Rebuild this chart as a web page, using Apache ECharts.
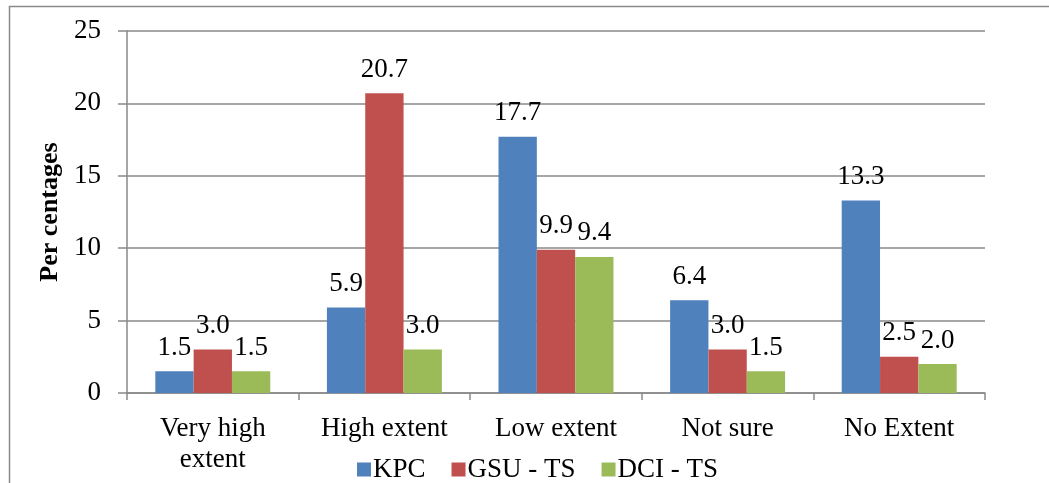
<!DOCTYPE html>
<html>
<head>
<meta charset="utf-8">
<script src="https://cdn.jsdelivr.net/npm/echarts@6/dist/echarts.min.js"></script>
<style>
  html, body { margin: 0; padding: 0; background: #fff; }
  #chart { width: 1049px; height: 483px; }
</style>
</head>
<body>
<div id="chart"></div>
<script>
// Response categories and per-centage values for each institution
const categories = ['Very high\nextent', 'High extent', 'Low extent', 'Not sure', 'No Extent'];
const seriesNames = ['KPC', 'GSU - TS', 'DCI - TS'];
const kpc = [1.5, 5.9, 17.7, 6.4, 13.3];
const gsuTs = [3.0, 20.7, 9.9, 3.0, 2.5];
const dciTs = [1.5, 3.0, 9.4, 1.5, 2.0];
const yTicks = { min: 0, max: 25, interval: 5 };

const FONT = '"Liberation Serif", "Times New Roman", serif';
const colors = ['#4F81BD', '#C0504D', '#9BBB59'];
const gridGray = '#898989';

function barSeries(name, data, color) {
  return {
    name: name,
    type: 'bar',
    data: data,
    barGap: '0%',
    barCategoryGap: '33%',
    itemStyle: { color: color },
    label: {
      show: true,
      position: 'top',
      distance: 10,
      color: '#000',
      fontFamily: FONT,
      fontSize: 27,
      formatter: p => p.value.toFixed(1)
    }
  };
}

const chart = echarts.init(document.getElementById('chart'), null, { renderer: 'canvas' });
chart.setOption({
  backgroundColor: '#fff',
  animation: false,
  graphic: [{
    type: 'rect',
    shape: { x: 9.5, y: 6.5, width: 1100, height: 600 },
    style: { fill: 'none', stroke: '#8a8a8a', lineWidth: 1.5 },
    silent: true,
    z: -1
  }],
  grid: { left: 127, right: 64, top: 31, bottom: 90 },
  legend: {
    data: seriesNames,
    left: 352,
    top: 451,
    itemWidth: 14,
    itemHeight: 14,
    itemGap: 26,
    icon: 'rect',
    textStyle: { fontFamily: FONT, fontSize: 27, color: '#000', padding: [0, 0, 0, -3] }
  },
  xAxis: {
    type: 'category',
    data: categories,
    axisLine: { lineStyle: { color: gridGray, width: 1.5 } },
    axisTick: { show: true, length: 7, alignWithLabel: false, lineStyle: { color: gridGray, width: 1.5 } },
    axisLabel: {
      interval: 0,
      margin: 20,
      color: '#000',
      fontFamily: FONT,
      fontSize: 27,
      lineHeight: 31
    }
  },
  yAxis: {
    type: 'value',
    min: yTicks.min,
    max: yTicks.max,
    interval: yTicks.interval,
    name: 'Per centages',
    nameLocation: 'middle',
    nameGap: 49,
    nameTextStyle: { fontFamily: FONT, fontSize: 26, fontWeight: 'bold', color: '#000' },
    axisLine: { show: true, lineStyle: { color: gridGray, width: 1.5 } },
    axisTick: { show: true, length: 9, inside: false, lineStyle: { color: gridGray, width: 1.5 } },
    axisLabel: { margin: 26, color: '#000', fontFamily: FONT, fontSize: 27 },
    splitLine: { show: true, lineStyle: { color: gridGray, width: 1.5 } }
  },
  series: [
    barSeries(seriesNames[0], kpc, colors[0]),
    barSeries(seriesNames[1], gsuTs, colors[1]),
    barSeries(seriesNames[2], dciTs, colors[2])
  ]
});
</script>
</body>
</html>
